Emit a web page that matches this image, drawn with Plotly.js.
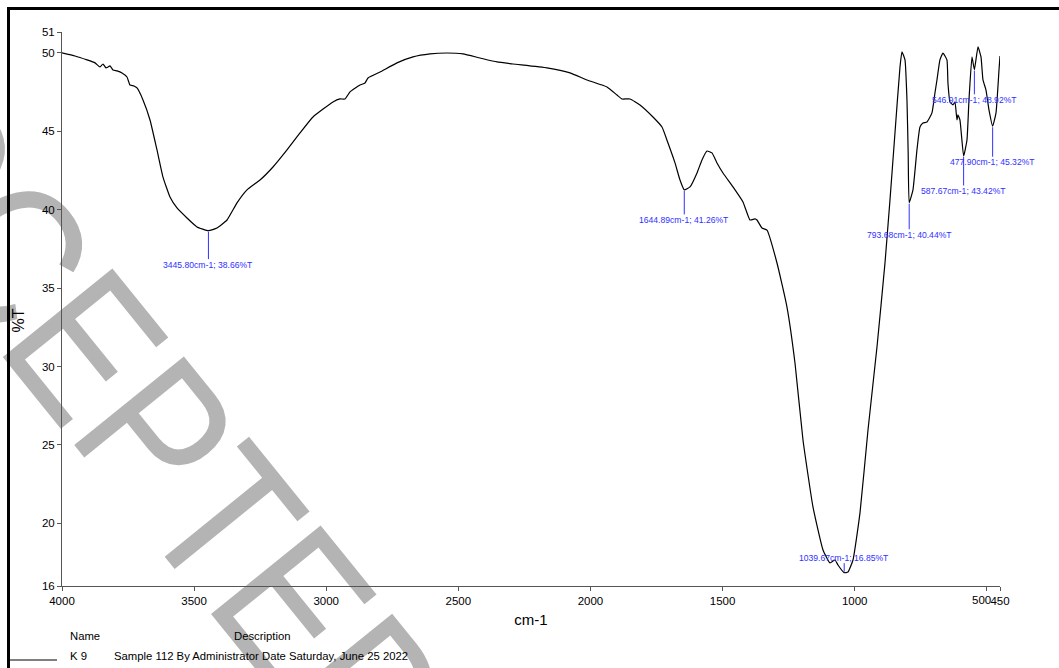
<!DOCTYPE html>
<html>
<head>
<meta charset="utf-8">
<script src="https://cdn.plot.ly/plotly-3.0.1.min.js"></script>
<style>
  html, body { margin: 0; padding: 0; background: #fff; overflow: hidden; }
  #wm { position: absolute; left: 0; top: 0; width: 1059px; height: 668px; z-index: 0; }
  #chart { position: absolute; left: 0; top: 0; width: 1059px; height: 668px; z-index: 1; }
  #frame { position: absolute; left: 7px; top: 7px; width: 1100px; height: 700px; z-index: 2;
           border-left: 3px solid #000; border-top: 3px solid #000; pointer-events: none; }
</style>
</head>
<body>
<svg id="wm" width="1059" height="668" xmlns="http://www.w3.org/2000/svg"></svg>
<div id="chart"></div>
<div id="frame"></div>
<script>
// ---- data (wavenumber cm-1, %T) ----
const wavenumber = [4000, 3950.8, 3905.4, 3875.1, 3856.2, 3844.8, 3833.5, 3818.3, 3807.0, 3791.8,
  3772.9, 3754.0, 3742.6, 3727.5, 3716.2, 3693.5, 3666.9, 3640.5, 3617.8, 3591.3,
  3564.8, 3526.9, 3489.1, 3445.8, 3413.4, 3375.5, 3337.7, 3299.9, 3250.6, 3201.5,
  3148.5, 3099.3, 3050.1, 2974.4, 2947.9, 2928.9, 2910.0, 2872.2, 2853.3, 2841.9,
  2796.5, 2732.2, 2671.6, 2607.3, 2542.9, 2482.4, 2418.0, 2353.7, 2293.3, 2164.5,
  2077.4, 2013.1, 1937.4, 1899.5, 1880.6, 1850.4, 1812.5, 1763.3, 1729.2, 1706.5,
  1680.0, 1661.1, 1644.89, 1623.2, 1596.7, 1577.9, 1558.9, 1540.0, 1521.1, 1498.4,
  1460.5, 1422.7, 1396.2, 1377.3, 1369.7, 1350.8, 1331.9, 1294.0, 1256.2, 1225.9,
  1195.6, 1157.8, 1119.9, 1093.4, 1074.5, 1063.2, 1039.67, 1025.3, 1006.4, 979.9,
  949.6, 915.6, 885.3, 866.4, 847.5, 828.5, 821.0, 809.6, 802.1, 797.5,
  793.68, 779.4, 764.3, 752.9, 741.6, 726.4, 707.5, 696.2, 688.6, 677.3,
  665.9, 650.8, 647.0, 639.4, 628.1, 620.5, 612.9, 609.2, 601.6, 587.67,
  575.0, 567.4, 556.1, 546.91, 533.3, 521.9, 514.4, 503.0, 491.7, 477.90,
  465.1, 453.8, 450];
const transmittance = [50.0, 49.80, 49.55, 49.36, 49.10, 49.29, 49.04, 49.17, 48.91, 48.85,
  48.72, 48.46, 47.95, 47.89, 47.76, 47.00, 45.72, 43.81, 42.08, 40.81,
  40.11, 39.47, 38.90, 38.66, 38.83, 39.34, 40.43, 41.26, 41.89, 42.72,
  43.81, 44.89, 45.91, 46.87, 47.06, 47.06, 47.51, 47.95, 48.08, 48.40,
  48.78, 49.36, 49.74, 49.93, 49.99, 49.93, 49.67, 49.42, 49.29, 49.04,
  48.72, 48.27, 47.82, 47.31, 47.06, 47.06, 46.68, 45.91, 45.27, 44.25,
  42.98, 41.89, 41.26, 41.45, 42.34, 43.17, 43.74, 43.62, 42.98, 42.34,
  41.45, 40.49, 39.34, 39.41, 39.34, 38.83, 38.70, 36.60, 33.79, 30.22,
  25.31, 21.04, 18.30, 17.47, 17.66, 17.34, 16.85, 16.89, 17.66, 20.66,
  25.95, 31.24, 36.60, 40.62, 44.89, 49.10, 50.06, 49.55, 47.00, 43.60,
  40.44, 41.26, 43.81, 45.27, 45.53, 45.59, 46.17, 47.44, 48.27, 49.55,
  49.99, 49.55, 48.08, 46.87, 46.68, 46.87, 45.72, 46.04, 45.72, 43.42,
  44.44, 47.00, 49.74, 48.92, 50.38, 49.74, 48.27, 47.63, 46.36, 45.32,
  46.17, 48.91, 49.80];

// labelled peaks
const peakWavenumber = [3445.80, 1644.89, 1039.67, 793.68, 587.67, 546.91, 477.90];
const peakTransmittance = [38.66, 41.26, 16.85, 40.44, 43.42, 48.92, 45.32];

// axis ticks
const xTickVals = [4000, 3500, 3000, 2500, 2000, 1500, 1000, 500, 450];
const xTickText = ['4000', '3500', '3000', '2500', '2000', '1500', '1000', '500', '450'];
const yTickVals = [16, 20, 25, 30, 35, 40, 45, 50, 51.33];
const yTickText = ['16', '20', '25', '30', '35', '40', '45', '50', '51'];

// text
const xTitle = 'cm-1';
const yTitle = '%T';
const legendHeader = ['Name', 'Description'];
const sampleName = 'K 9';
const sampleDescription = 'Sample 112 By Administrator Date Saturday, June 25 2022';
const watermark = 'ACCEPTED';

// ---- styles ----
const labelOffsetY = [34, 30, -15, 32, 35, 30, 36];
const blue = '#3030ff';
const FONT = 'Liberation Sans, Arial, sans-serif';

// watermark (behind the chart)
(function () {
  const svg = document.getElementById('wm');
  const t = document.createElementNS('http://www.w3.org/2000/svg', 'text');
  t.setAttribute('x', 0); t.setAttribute('y', 0);
  t.setAttribute('transform', 'translate(-232,67) rotate(51) scale(0.83,1)');
  t.setAttribute('font-family', 'Liberation Sans, Arial, sans-serif');
  t.setAttribute('font-size', '205');
  t.setAttribute('fill', '#b4b4b4');
  t.textContent = watermark;
  svg.appendChild(t);
})();

// "500" and "450" sit side by side in the original: draw "500" nudged left
const shiftedTick = '500';
const xTickShown = xTickText.map(s => s === shiftedTick ? '' : s);

const annotations = [];
peakWavenumber.forEach((w, i) => {
  annotations.push({
    x: w, y: peakTransmittance[i], xref: 'x', yref: 'y',
    text: w.toFixed(2) + 'cm-1; ' + peakTransmittance[i].toFixed(2) + '%T',
    showarrow: true, arrowhead: 0, arrowwidth: 1, arrowcolor: blue,
    ax: 0, ay: labelOffsetY[i], standoff: 1, borderpad: 0,
    font: {family: FONT, size: 8.6, color: blue}
  });
});
annotations.push({text: shiftedTick, x: Number(shiftedTick), xref: 'x', yref: 'paper', y: -0.0253,
  xanchor: 'center', yanchor: 'middle', xshift: -5, showarrow: false,
  font: {family: FONT, size: 11.5, color: '#000'}});
annotations.push({text: yTitle, xref: 'paper', yref: 'paper', x: -0.0464, y: 0.480,
  xanchor: 'center', yanchor: 'middle', showarrow: false, textangle: -90,
  font: {family: FONT, size: 16, color: '#000'}});
annotations.push({text: legendHeader[0], xref: 'paper', yref: 'paper', x: 0.0064, y: -0.0903,
  xanchor: 'left', yanchor: 'middle', showarrow: false, font: {family: FONT, size: 11.3, color: '#000'}});
annotations.push({text: legendHeader[1], xref: 'paper', yref: 'paper', x: 0.1812, y: -0.0903,
  xanchor: 'left', yanchor: 'middle', showarrow: false, font: {family: FONT, size: 11.3, color: '#000'}});
annotations.push({text: sampleName, xref: 'paper', yref: 'paper', x: 0.0064, y: -0.1264,
  xanchor: 'left', yanchor: 'middle', showarrow: false, font: {family: FONT, size: 11.3, color: '#000'}});
annotations.push({text: sampleDescription, xref: 'paper', yref: 'paper', x: 0.0533, y: -0.1264,
  xanchor: 'left', yanchor: 'middle', showarrow: false, font: {family: FONT, size: 11.3, color: '#000'}});

const trace = {
  x: wavenumber, y: transmittance, type: 'scatter', mode: 'lines',
  line: {color: '#000', width: 1.2, shape: 'spline', smoothing: 0.4},
  hoverinfo: 'skip', cliponaxis: false
};

const layout = {
  width: 1059, height: 668,
  margin: {l: 62, r: 59, t: 32, b: 82},
  paper_bgcolor: 'rgba(0,0,0,0)', plot_bgcolor: 'rgba(0,0,0,0)',
  showlegend: false,
  font: {family: FONT, color: '#000'},
  xaxis: {
    range: [4000, 450], tickvals: xTickVals, ticktext: xTickShown, tickangle: 0,
    showline: true, linecolor: '#555', linewidth: 1,
    ticks: 'outside', ticklen: 4, tickcolor: '#555', tickwidth: 1,
    showgrid: false, zeroline: false,
    tickfont: {family: FONT, size: 11.5, color: '#000'},
    title: {text: xTitle, font: {family: FONT, size: 15, color: '#000'}, standoff: 8}
  },
  yaxis: {
    range: [16, 51.33], tickvals: yTickVals, ticktext: yTickText,
    showline: true, linecolor: '#555', linewidth: 1,
    ticks: 'outside', ticklen: 4, tickcolor: '#555', tickwidth: 1,
    showgrid: false, zeroline: false,
    tickfont: {family: FONT, size: 11.5, color: '#000'}
  },
  shapes: [{
    type: 'line', xref: 'paper', yref: 'paper',
    x0: -0.0554, x1: -0.0053, y0: -0.1336, y1: -0.1336,
    line: {color: '#000', width: 1}
  }],
  annotations: annotations
};

Plotly.newPlot('chart', [trace], layout, {staticPlot: true, displayModeBar: false});
</script>
</body>
</html>
